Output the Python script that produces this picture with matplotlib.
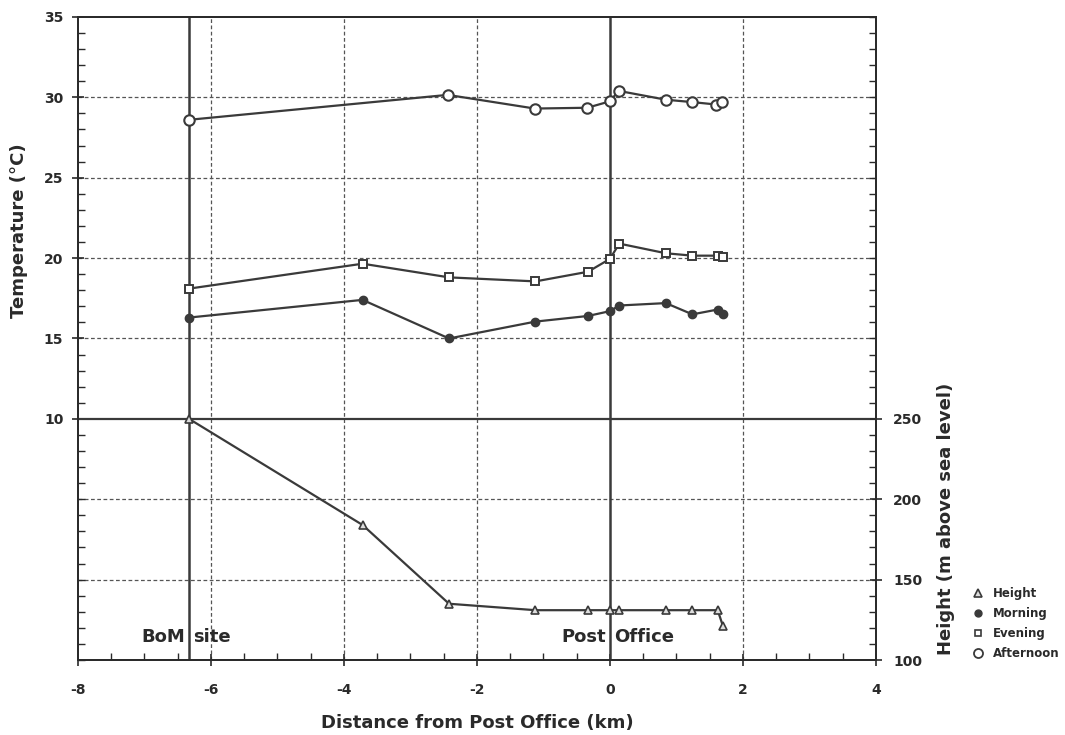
import matplotlib
matplotlib.use("Agg")
import matplotlib.pyplot as plt
import numpy as np
from matplotlib.ticker import MultipleLocator, FixedLocator
from matplotlib.lines import Line2D

# ---------------- data ----------------
dist = [-6.33, -3.72, -2.42, -1.12, -0.33, 0.0, 0.14, 0.84, 1.24, 1.62, 1.70]
height_m = [250, 184, 135, 131, 131, 131, 131, 131, 131, 131, 121]
morning = [16.3, 17.4, 15.0, 16.05, 16.4, 16.7, 17.05, 17.2, 16.5, 16.8, 16.55]
evening = [18.1, 19.65, 18.8, 18.55, 19.15, 19.95, 20.9, 20.3, 20.15, 20.15, 20.05]
dist_afternoon = [-6.33, -2.44, -1.13, -0.34, 0.0, 0.13, 0.84, 1.24, 1.60, 1.69]
afternoon = [28.6, 30.15, 29.3, 29.35, 29.75, 30.4, 29.85, 29.7, 29.55, 29.7]

temp_ticks = [10, 15, 20, 25, 30, 35]
height_ticks = [100, 150, 200, 250]
x_ticks = [-8, -6, -4, -2, 0, 2, 4]

site_labels = ["BoM", "site", "Post", "Office"]

# ---------------- style ----------------
plt.rcParams['font.family'] = ['DejaVu Sans']
plt.rcParams['font.weight'] = 'bold'
ink = '#2a2a2a'
line_c = '#3a3a3a'

fig = plt.figure(figsize=(10.65, 7.35), dpi=100)
ax = fig.add_axes([0.0732, 0.102, 0.7493, 0.875])
ax2 = ax.twinx()

ax.set_xlim(-8, 4)
ax.set_ylim(-5, 35)
ax2.set_ylim(100, 500)

# grid lines
for gx in [-6, -4, -2, 2]:
    ax.axvline(gx, color='#555555', lw=0.9, ls=(0, (3, 2)), zorder=1)
for gy in [0, 5, 15, 20, 25, 30]:
    ax.axhline(gy, color='#555555', lw=0.9, ls=(0, (3, 2)), zorder=1)
ax.axhline(10, color=line_c, lw=1.6, zorder=2)
ax.axvline(dist[0], color=line_c, lw=1.8, zorder=2)
ax.axvline(0, color=line_c, lw=1.8, zorder=2)

# series
ax.plot(dist_afternoon, afternoon, color=line_c, lw=1.6, marker='o', ms=7.5,
        mfc='white', mec=line_c, mew=1.5, zorder=4)
ax.plot(dist, evening, color=line_c, lw=1.6, marker='s', ms=5.5,
        mfc='white', mec=line_c, mew=1.4, zorder=4)
ax.plot(dist, morning, color=line_c, lw=1.6, marker='o', ms=6,
        mfc=line_c, mec=line_c, zorder=4)
ax2.plot(dist, height_m, color=line_c, lw=1.6, marker='^', ms=6,
         mfc='#dddddd', mec=line_c, mew=1.2, zorder=4)

# ticks
ax.xaxis.set_major_locator(FixedLocator(x_ticks))
ax.xaxis.set_minor_locator(MultipleLocator(0.5))
ax.yaxis.set_major_locator(FixedLocator(temp_ticks))
ax.yaxis.set_minor_locator(MultipleLocator(1))
ax.set_xticklabels([str(v) for v in x_ticks])
ax.set_yticklabels([str(v) for v in temp_ticks])
ax2.yaxis.set_major_locator(FixedLocator(height_ticks))
ax2.yaxis.set_minor_locator(MultipleLocator(10))
ax2.set_yticklabels([str(v) for v in height_ticks])

ax.tick_params(axis='both', which='major', direction='inout', length=9, width=1.2,
               colors=ink, labelsize=10, pad=6)
ax.tick_params(axis='both', which='minor', direction='in', length=5, width=1.0, colors=ink)
ax.tick_params(axis='x', which='major', pad=12)
ax2.tick_params(axis='y', which='major', direction='inout', length=9, width=1.2,
                colors=ink, labelsize=10, pad=8)
ax2.tick_params(axis='y', which='minor', direction='in', length=5, width=1.0, colors=ink)
for lab in ax.get_xticklabels() + ax.get_yticklabels() + ax2.get_yticklabels():
    lab.set_fontweight('bold')

for a in (ax, ax2):
    for s in a.spines.values():
        s.set_color(ink)
        s.set_linewidth(1.3)

ax.set_xlabel("Distance from Post Office (km)", fontsize=13, fontweight='bold',
              color=ink, labelpad=12)
ax.set_ylabel("Temperature (°C)", fontsize=13, fontweight='bold', color=ink)
ax.yaxis.set_label_coords(-0.062, 0.667)
ax2.set_ylabel("Height (m above sea level)", fontsize=13, fontweight='bold', color=ink)
ax2.yaxis.set_label_coords(1.077, 0.22)

# site labels
for xpos, left_lab, right_lab in [(dist[0], site_labels[0], site_labels[1]),
                                  (0.0, site_labels[2], site_labels[3])]:
    ax.text(xpos - 0.06, -3.55, left_lab, ha='right', va='center',
            fontsize=13, fontweight='bold', color=ink)
    ax.text(xpos + 0.06, -3.55, right_lab, ha='left', va='center',
            fontsize=13, fontweight='bold', color=ink)

# legend
handles = [
    Line2D([], [], ls='none', marker='^', ms=5.5, mfc='#dddddd', mec=line_c, mew=1.2),
    Line2D([], [], ls='none', marker='o', ms=5, mfc=line_c, mec=line_c),
    Line2D([], [], ls='none', marker='s', ms=5, mfc='white', mec=line_c, mew=1.2),
    Line2D([], [], ls='none', marker='o', ms=6.5, mfc='white', mec=line_c, mew=1.3),
]
leg = fig.legend(handles, ["Height", "Morning", "Evening", "Afternoon"],
                 loc='lower left', bbox_to_anchor=(0.912, 0.099), frameon=False,
                 fontsize=8.5, handlelength=0.8, handletextpad=0.8, labelspacing=0.58,
                 borderpad=0.2, borderaxespad=0.0)
for t in leg.get_texts():
    t.set_fontweight('bold')
    t.set_color(ink)

fig.savefig("out.png", dpi=100, facecolor='white')
